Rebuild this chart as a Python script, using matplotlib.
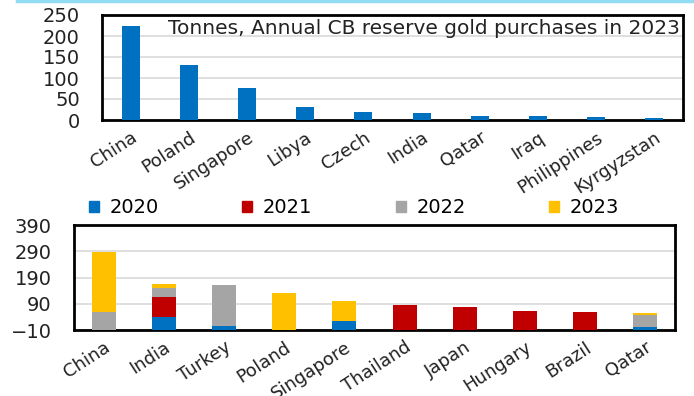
import numpy as np
import matplotlib.pyplot as plt
from matplotlib.lines import Line2D

plt.rcParams['font.family'] = ['DejaVu Sans']

# Top panel: annual CB reserve gold purchases in 2023 (tonnes)
top_countries = ['China', 'Poland', 'Singapore', 'Libya', 'Czech', 'India',
                 'Qatar', 'Iraq', 'Philippines', 'Kyrgyzstan']
top_values = [225, 131, 77, 31, 20, 17, 10, 10, 7, 5]

# Bottom panel: purchases by year, stacked
bot_countries = ['China', 'India', 'Turkey', 'Poland', 'Singapore', 'Thailand',
                 'Japan', 'Hungary', 'Brazil', 'Qatar']
years = ['2020', '2021', '2022', '2023']
v2020 = [0, 38, 5, 0, 25, 0, 0, 0, 0, 3]
v2021 = [0, 78, 0, 0, 0, 86, 76, 62, 57, 0]
v2022 = [60, 33, 156, 0, 0, 0, 0, 0, 0, 43]
v2023 = [227, 16, 0, 130, 77, 0, 0, 0, 0, 9]
colors = ['#0070C0', '#C00000', '#A5A5A5', '#FFC000']

W, H = 694, 396
fig = plt.figure(figsize=(W / 100, H / 100), dpi=100)

def box(l, t, r, b):
    return [l / W, 1 - b / H, (r - l) / W, (b - t) / H]

ax1 = fig.add_axes(box(102, 15, 683, 120))
ax2 = fig.add_axes(box(74, 225, 675, 330))

# thin cyan rule across the very top
fig.add_artist(Line2D([17 / W, 1], [1 - 1 / H, 1 - 1 / H], color='#93DDF4', lw=2.5))

# ---- top chart
x = np.arange(len(top_countries))
ax1.bar(x, top_values, width=0.31, color='#0070C0', zorder=3)
ax1.set_xlim(-0.5, len(top_countries) - 0.5)
ax1.set_ylim(0, 250)
ax1.set_yticks([0, 50, 100, 150, 200, 250])
ax1.text(0.995, 0.96, 'Tonnes, Annual CB reserve gold purchases in 2023',
         transform=ax1.transAxes, ha='right', va='top', fontsize=14.5, color='#222222')

# ---- bottom chart (columns start at the axis floor, like the source)
x2 = np.arange(len(bot_countries))
floor = -10
cum = np.zeros(len(bot_countries))
base = np.full(len(bot_countries), float(floor))
for vals, c, lab in zip([v2020, v2021, v2022, v2023], colors, years):
    v = np.array(vals, dtype=float)
    tops = cum + v
    show = v > 0
    ax2.bar(x2[show], (tops - base)[show], bottom=base[show], width=0.4,
            color=c, zorder=3)
    base = np.where(show, tops, base)
    cum = tops
ax2.set_xlim(-0.5, len(bot_countries) - 0.5)
ax2.set_ylim(-10, 390)
ax2.set_yticks([-10, 90, 190, 290, 390])

handles = [plt.Rectangle((0, 0), 1, 1, color=c) for c in colors]
ax2.legend(handles, years, loc='lower center', bbox_to_anchor=(0.466, 1.0), ncol=4,
           frameon=False, fontsize=14, handlelength=0.5, handleheight=0.5,
           handletextpad=0.55, columnspacing=4.3, borderaxespad=0.0)

for ax, labels in [(ax1, top_countries), (ax2, bot_countries)]:
    ax.set_xticks(np.arange(len(labels)))
    ax.set_xticklabels(labels, rotation=33, ha='right', rotation_mode='anchor',
                       fontsize=13, color='#222222')
    ax.tick_params(axis='x', length=0, pad=6)
    ax.tick_params(axis='y', length=0, pad=16, labelsize=14, labelcolor='#222222')
    ax.grid(axis='y', color='#D9D9D9', lw=1.2, zorder=0)
    for s in ax.spines.values():
        s.set_linewidth(2)
        s.set_color('black')

fig.savefig('out.png', dpi=100)
